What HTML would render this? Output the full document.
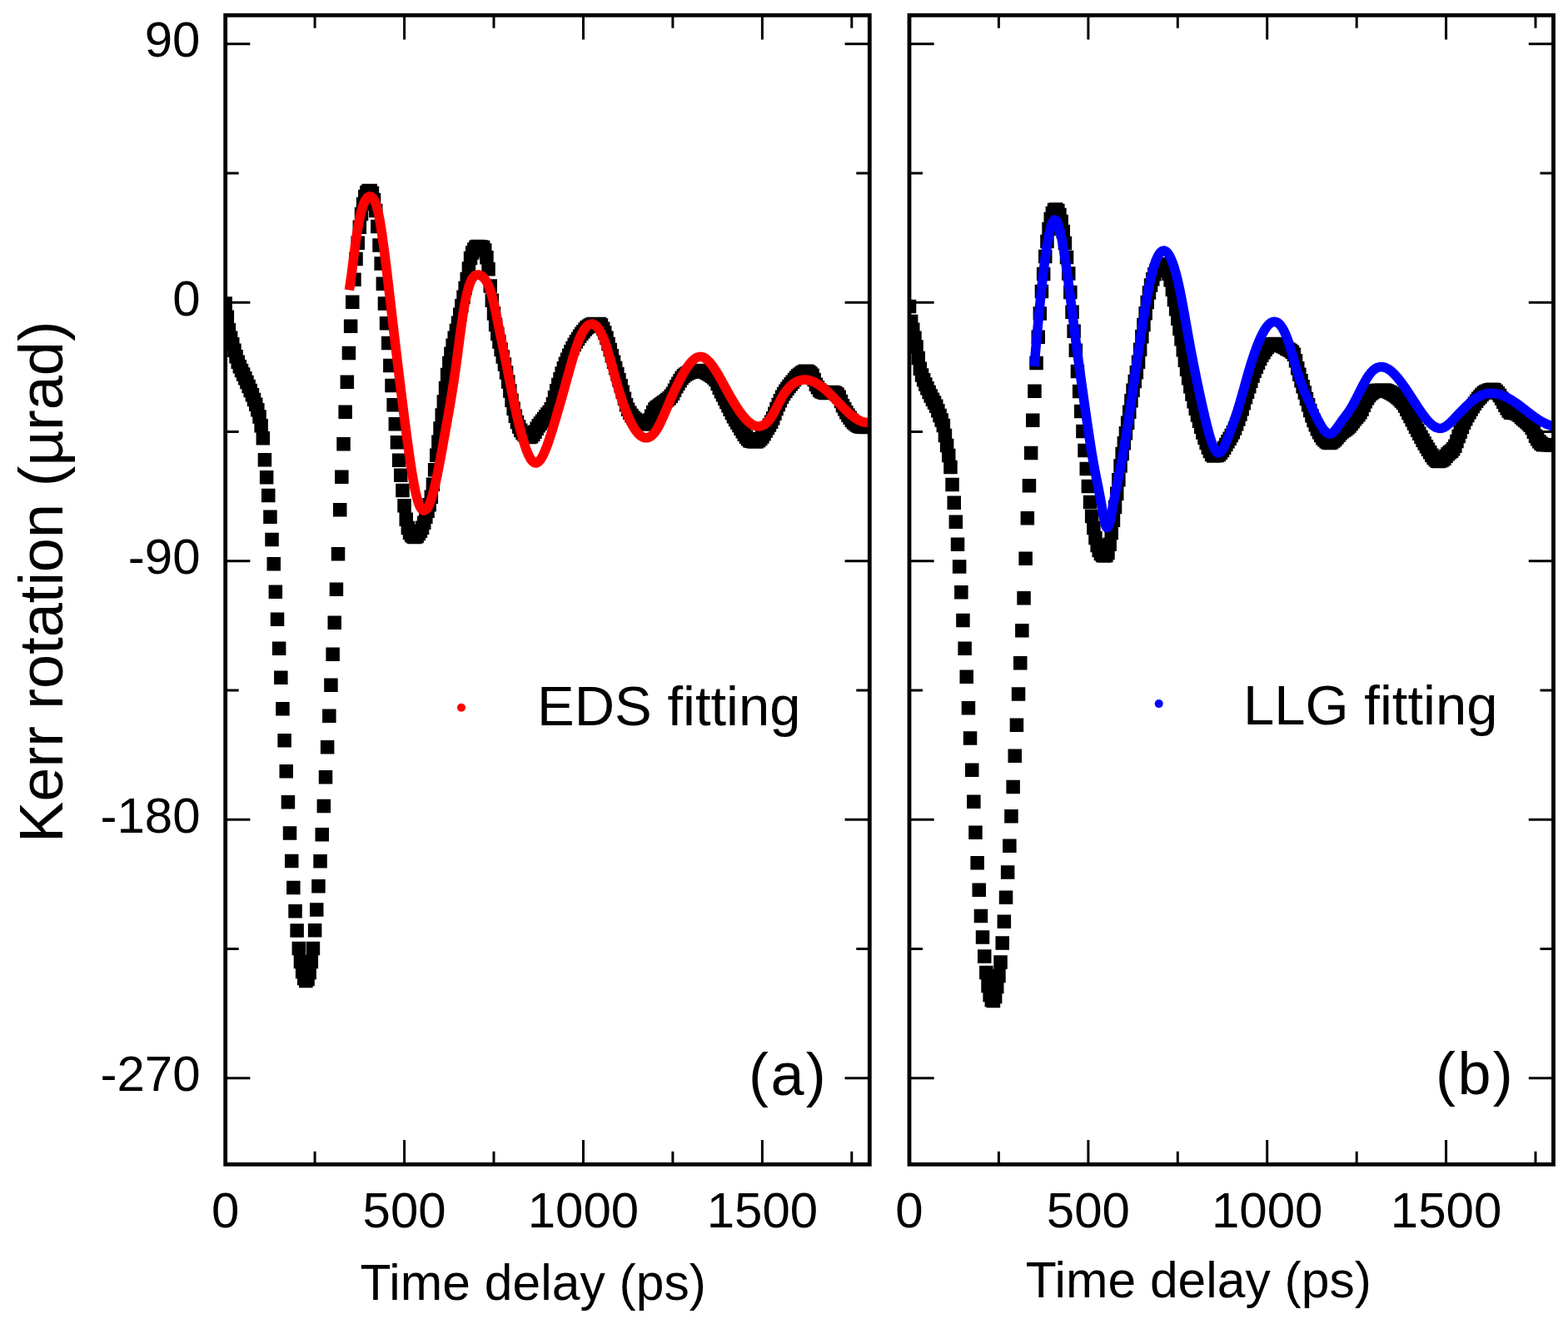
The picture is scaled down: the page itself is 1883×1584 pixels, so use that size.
<!DOCTYPE html><html><head><meta charset="utf-8"><style>html,body{margin:0;padding:0;background:#fff;overflow:hidden}svg{display:block}</style></head><body>
<svg width="1883" height="1584" viewBox="0 0 1883 1584" font-family="'Liberation Sans', Arial, sans-serif">
<rect width="1883" height="1584" fill="#fff"/>
<clipPath id="c270"><rect x="270.7" y="18.3" width="773.6" height="1380.0"/></clipPath>
<g clip-path="url(#c270)">
<path fill="#000" d="M262.4 356.2h16.5v16.5h-16.5zM264.6 372.5h16.5v16.5h-16.5zM266.7 388.0h16.5v16.5h-16.5zM268.9 397.4h16.5v16.5h-16.5zM271.0 405.0h16.5v16.5h-16.5zM273.2 412.6h16.5v16.5h-16.5zM275.3 420.0h16.5v16.5h-16.5zM277.5 426.5h16.5v16.5h-16.5zM279.6 432.0h16.5v16.5h-16.5zM281.8 436.7h16.5v16.5h-16.5zM283.9 441.2h16.5v16.5h-16.5zM286.1 445.9h16.5v16.5h-16.5zM288.2 450.8h16.5v16.5h-16.5zM290.4 455.7h16.5v16.5h-16.5zM292.5 460.8h16.5v16.5h-16.5zM294.7 466.1h16.5v16.5h-16.5zM296.8 471.8h16.5v16.5h-16.5zM299.0 477.6h16.5v16.5h-16.5zM301.1 484.1h16.5v16.5h-16.5zM303.3 492.2h16.5v16.5h-16.5zM305.4 503.0h16.5v16.5h-16.5zM307.6 518.0h16.5v16.5h-16.5zM309.7 543.9h16.5v16.5h-16.5zM311.9 565.0h16.5v16.5h-16.5zM314.0 586.8h16.5v16.5h-16.5zM316.2 612.5h16.5v16.5h-16.5zM318.3 639.8h16.5v16.5h-16.5zM320.5 668.9h16.5v16.5h-16.5zM322.6 702.5h16.5v16.5h-16.5zM324.8 735.4h16.5v16.5h-16.5zM326.9 770.4h16.5v16.5h-16.5zM329.1 805.6h16.5v16.5h-16.5zM331.2 843.1h16.5v16.5h-16.5zM333.4 881.0h16.5v16.5h-16.5zM335.5 918.0h16.5v16.5h-16.5zM337.7 955.1h16.5v16.5h-16.5zM339.8 992.2h16.5v16.5h-16.5zM342.0 1025.8h16.5v16.5h-16.5zM344.1 1057.8h16.5v16.5h-16.5zM346.3 1086.0h16.5v16.5h-16.5zM348.4 1109.2h16.5v16.5h-16.5zM350.6 1130.8h16.5v16.5h-16.5zM352.7 1146.8h16.5v16.5h-16.5zM354.9 1158.8h16.5v16.5h-16.5zM357.0 1166.8h16.5v16.5h-16.5zM359.1 1169.8h16.5v16.5h-16.5zM361.3 1167.8h16.5v16.5h-16.5zM363.4 1159.8h16.5v16.5h-16.5zM365.6 1146.8h16.5v16.5h-16.5zM367.7 1130.8h16.5v16.5h-16.5zM369.9 1109.0h16.5v16.5h-16.5zM372.0 1084.2h16.5v16.5h-16.5zM374.2 1056.0h16.5v16.5h-16.5zM376.3 1026.0h16.5v16.5h-16.5zM378.5 994.0h16.5v16.5h-16.5zM380.6 959.8h16.5v16.5h-16.5zM382.8 925.1h16.5v16.5h-16.5zM384.9 889.0h16.5v16.5h-16.5zM387.1 851.6h16.5v16.5h-16.5zM389.2 814.5h16.5v16.5h-16.5zM391.4 777.4h16.5v16.5h-16.5zM393.5 739.5h16.5v16.5h-16.5zM395.7 699.6h16.5v16.5h-16.5zM397.8 656.9h16.5v16.5h-16.5zM400.0 604.0h16.5v16.5h-16.5zM402.1 564.5h16.5v16.5h-16.5zM404.3 524.9h16.5v16.5h-16.5zM406.4 486.4h16.5v16.5h-16.5zM408.6 450.6h16.5v16.5h-16.5zM410.7 415.8h16.5v16.5h-16.5zM412.9 383.4h16.5v16.5h-16.5zM415.0 354.6h16.5v16.5h-16.5zM417.2 327.4h16.5v16.5h-16.5zM419.3 302.8h16.5v16.5h-16.5zM421.5 283.6h16.5v16.5h-16.5zM423.6 264.4h16.5v16.5h-16.5zM425.8 248.8h16.5v16.5h-16.5zM427.9 236.8h16.5v16.5h-16.5zM430.1 227.8h16.5v16.5h-16.5zM432.2 222.8h16.5v16.5h-16.5zM434.4 220.8h16.5v16.5h-16.5zM436.5 220.8h16.5v16.5h-16.5zM438.7 223.8h16.5v16.5h-16.5zM440.8 231.8h16.5v16.5h-16.5zM443.0 244.8h16.5v16.5h-16.5zM445.1 263.8h16.5v16.5h-16.5zM447.3 286.2h16.5v16.5h-16.5zM449.4 308.2h16.5v16.5h-16.5zM451.6 332.4h16.5v16.5h-16.5zM453.7 356.2h16.5v16.5h-16.5zM455.8 380.1h16.5v16.5h-16.5zM458.0 403.8h16.5v16.5h-16.5zM460.1 430.8h16.5v16.5h-16.5zM462.3 454.8h16.5v16.5h-16.5zM464.4 478.1h16.5v16.5h-16.5zM466.6 501.1h16.5v16.5h-16.5zM468.7 523.1h16.5v16.5h-16.5zM470.9 544.4h16.5v16.5h-16.5zM473.0 562.5h16.5v16.5h-16.5zM475.2 580.8h16.5v16.5h-16.5zM477.3 599.0h16.5v16.5h-16.5zM479.5 615.6h16.5v16.5h-16.5zM481.6 625.8h16.5v16.5h-16.5zM483.8 631.8h16.5v16.5h-16.5zM485.9 634.8h16.5v16.5h-16.5zM488.1 636.2h16.5v16.5h-16.5zM490.2 636.8h16.5v16.5h-16.5zM492.4 635.8h16.5v16.5h-16.5zM494.5 632.8h16.5v16.5h-16.5zM496.7 629.5h16.5v16.5h-16.5zM498.8 625.6h16.5v16.5h-16.5zM501.0 619.5h16.5v16.5h-16.5zM503.1 612.6h16.5v16.5h-16.5zM505.3 605.4h16.5v16.5h-16.5zM507.4 598.1h16.5v16.5h-16.5zM509.6 588.4h16.5v16.5h-16.5zM511.7 573.6h16.5v16.5h-16.5zM513.9 556.0h16.5v16.5h-16.5zM516.0 538.5h16.5v16.5h-16.5zM518.2 522.4h16.5v16.5h-16.5zM520.3 506.2h16.5v16.5h-16.5zM522.5 490.2h16.5v16.5h-16.5zM524.6 474.3h16.5v16.5h-16.5zM526.8 457.8h16.5v16.5h-16.5zM528.9 441.8h16.5v16.5h-16.5zM531.1 427.8h16.5v16.5h-16.5zM533.2 416.5h16.5v16.5h-16.5zM535.4 406.6h16.5v16.5h-16.5zM537.5 397.6h16.5v16.5h-16.5zM539.7 388.8h16.5v16.5h-16.5zM541.8 379.5h16.5v16.5h-16.5zM544.0 369.4h16.5v16.5h-16.5zM546.1 359.0h16.5v16.5h-16.5zM548.3 348.4h16.5v16.5h-16.5zM550.4 337.7h16.5v16.5h-16.5zM552.5 326.8h16.5v16.5h-16.5zM554.7 314.2h16.5v16.5h-16.5zM556.8 301.7h16.5v16.5h-16.5zM559.0 295.2h16.5v16.5h-16.5zM561.1 291.3h16.5v16.5h-16.5zM563.3 288.6h16.5v16.5h-16.5zM565.4 287.8h16.5v16.5h-16.5zM567.6 287.9h16.5v16.5h-16.5zM569.7 288.2h16.5v16.5h-16.5zM571.9 288.7h16.5v16.5h-16.5zM574.0 292.3h16.5v16.5h-16.5zM576.2 301.1h16.5v16.5h-16.5zM578.3 314.9h16.5v16.5h-16.5zM580.5 335.3h16.5v16.5h-16.5zM582.6 352.4h16.5v16.5h-16.5zM584.8 368.2h16.5v16.5h-16.5zM586.9 381.8h16.5v16.5h-16.5zM589.1 392.7h16.5v16.5h-16.5zM591.2 402.3h16.5v16.5h-16.5zM593.4 411.6h16.5v16.5h-16.5zM595.5 420.3h16.5v16.5h-16.5zM597.7 429.2h16.5v16.5h-16.5zM599.8 439.3h16.5v16.5h-16.5zM602.0 450.3h16.5v16.5h-16.5zM604.1 461.2h16.5v16.5h-16.5zM606.3 472.4h16.5v16.5h-16.5zM608.4 482.5h16.5v16.5h-16.5zM610.6 491.4h16.5v16.5h-16.5zM612.7 498.7h16.5v16.5h-16.5zM614.9 504.3h16.5v16.5h-16.5zM617.0 508.6h16.5v16.5h-16.5zM619.2 511.6h16.5v16.5h-16.5zM621.3 513.8h16.5v16.5h-16.5zM623.5 515.1h16.5v16.5h-16.5zM625.6 516.1h16.5v16.5h-16.5zM627.8 516.7h16.5v16.5h-16.5zM629.9 516.1h16.5v16.5h-16.5zM632.1 513.6h16.5v16.5h-16.5zM634.2 510.4h16.5v16.5h-16.5zM636.4 506.4h16.5v16.5h-16.5zM638.5 503.1h16.5v16.5h-16.5zM640.7 500.2h16.5v16.5h-16.5zM642.8 497.4h16.5v16.5h-16.5zM645.0 494.7h16.5v16.5h-16.5zM647.1 491.9h16.5v16.5h-16.5zM649.2 489.3h16.5v16.5h-16.5zM651.4 486.7h16.5v16.5h-16.5zM653.5 483.0h16.5v16.5h-16.5zM655.7 477.0h16.5v16.5h-16.5zM657.8 469.0h16.5v16.5h-16.5zM660.0 460.9h16.5v16.5h-16.5zM662.1 453.8h16.5v16.5h-16.5zM664.3 446.9h16.5v16.5h-16.5zM666.4 440.2h16.5v16.5h-16.5zM668.6 434.1h16.5v16.5h-16.5zM670.7 428.6h16.5v16.5h-16.5zM672.9 423.4h16.5v16.5h-16.5zM675.0 418.5h16.5v16.5h-16.5zM677.2 414.0h16.5v16.5h-16.5zM679.3 409.7h16.5v16.5h-16.5zM681.5 405.8h16.5v16.5h-16.5zM683.6 402.1h16.5v16.5h-16.5zM685.8 398.7h16.5v16.5h-16.5zM687.9 395.5h16.5v16.5h-16.5zM690.1 392.6h16.5v16.5h-16.5zM692.2 389.9h16.5v16.5h-16.5zM694.4 387.3h16.5v16.5h-16.5zM696.5 385.0h16.5v16.5h-16.5zM698.7 383.5h16.5v16.5h-16.5zM700.8 382.3h16.5v16.5h-16.5zM703.0 381.3h16.5v16.5h-16.5zM705.1 380.8h16.5v16.5h-16.5zM707.3 380.8h16.5v16.5h-16.5zM709.4 380.8h16.5v16.5h-16.5zM711.6 380.8h16.5v16.5h-16.5zM713.7 382.3h16.5v16.5h-16.5zM715.9 386.5h16.5v16.5h-16.5zM718.0 391.3h16.5v16.5h-16.5zM720.2 397.5h16.5v16.5h-16.5zM722.3 404.7h16.5v16.5h-16.5zM724.5 411.8h16.5v16.5h-16.5zM726.6 419.1h16.5v16.5h-16.5zM728.8 426.4h16.5v16.5h-16.5zM730.9 433.7h16.5v16.5h-16.5zM733.1 440.8h16.5v16.5h-16.5zM735.2 447.9h16.5v16.5h-16.5zM737.4 455.0h16.5v16.5h-16.5zM739.5 462.4h16.5v16.5h-16.5zM741.7 470.4h16.5v16.5h-16.5zM743.8 478.0h16.5v16.5h-16.5zM745.9 483.6h16.5v16.5h-16.5zM748.1 487.6h16.5v16.5h-16.5zM750.2 490.8h16.5v16.5h-16.5zM752.4 493.4h16.5v16.5h-16.5zM754.5 495.5h16.5v16.5h-16.5zM756.7 497.4h16.5v16.5h-16.5zM758.8 498.9h16.5v16.5h-16.5zM761.0 499.8h16.5v16.5h-16.5zM763.1 500.5h16.5v16.5h-16.5zM765.3 500.9h16.5v16.5h-16.5zM767.4 501.2h16.5v16.5h-16.5zM769.6 500.4h16.5v16.5h-16.5zM771.7 496.2h16.5v16.5h-16.5zM773.9 491.5h16.5v16.5h-16.5zM776.0 486.8h16.5v16.5h-16.5zM778.2 483.2h16.5v16.5h-16.5zM780.3 481.2h16.5v16.5h-16.5zM782.5 479.7h16.5v16.5h-16.5zM784.6 478.1h16.5v16.5h-16.5zM786.8 476.6h16.5v16.5h-16.5zM788.9 475.1h16.5v16.5h-16.5zM791.1 473.5h16.5v16.5h-16.5zM793.2 471.8h16.5v16.5h-16.5zM795.4 469.9h16.5v16.5h-16.5zM797.5 467.6h16.5v16.5h-16.5zM799.7 464.6h16.5v16.5h-16.5zM801.8 460.4h16.5v16.5h-16.5zM804.0 456.1h16.5v16.5h-16.5zM806.1 452.5h16.5v16.5h-16.5zM808.3 449.0h16.5v16.5h-16.5zM810.4 445.8h16.5v16.5h-16.5zM812.6 443.2h16.5v16.5h-16.5zM814.7 441.6h16.5v16.5h-16.5zM816.9 440.3h16.5v16.5h-16.5zM819.0 439.2h16.5v16.5h-16.5zM821.2 438.4h16.5v16.5h-16.5zM823.3 437.8h16.5v16.5h-16.5zM825.5 437.5h16.5v16.5h-16.5zM827.6 437.1h16.5v16.5h-16.5zM829.8 436.9h16.5v16.5h-16.5zM831.9 436.8h16.5v16.5h-16.5zM834.1 436.9h16.5v16.5h-16.5zM836.2 437.5h16.5v16.5h-16.5zM838.4 438.5h16.5v16.5h-16.5zM840.5 439.6h16.5v16.5h-16.5zM842.6 440.7h16.5v16.5h-16.5zM844.8 441.9h16.5v16.5h-16.5zM846.9 443.4h16.5v16.5h-16.5zM849.1 445.2h16.5v16.5h-16.5zM851.2 447.7h16.5v16.5h-16.5zM853.4 452.4h16.5v16.5h-16.5zM855.5 457.5h16.5v16.5h-16.5zM857.7 461.9h16.5v16.5h-16.5zM859.8 466.1h16.5v16.5h-16.5zM862.0 470.4h16.5v16.5h-16.5zM864.1 474.7h16.5v16.5h-16.5zM866.3 479.0h16.5v16.5h-16.5zM868.4 483.4h16.5v16.5h-16.5zM870.6 487.8h16.5v16.5h-16.5zM872.7 491.9h16.5v16.5h-16.5zM874.9 495.7h16.5v16.5h-16.5zM877.0 499.3h16.5v16.5h-16.5zM879.2 502.8h16.5v16.5h-16.5zM881.3 506.4h16.5v16.5h-16.5zM883.5 510.1h16.5v16.5h-16.5zM885.6 513.6h16.5v16.5h-16.5zM887.8 516.4h16.5v16.5h-16.5zM889.9 519.1h16.5v16.5h-16.5zM892.1 521.0h16.5v16.5h-16.5zM894.2 521.6h16.5v16.5h-16.5zM896.4 522.0h16.5v16.5h-16.5zM898.5 522.2h16.5v16.5h-16.5zM900.7 522.1h16.5v16.5h-16.5zM902.8 520.8h16.5v16.5h-16.5zM905.0 518.7h16.5v16.5h-16.5zM907.1 516.3h16.5v16.5h-16.5zM909.3 513.1h16.5v16.5h-16.5zM911.4 509.3h16.5v16.5h-16.5zM913.6 505.8h16.5v16.5h-16.5zM915.7 502.3h16.5v16.5h-16.5zM917.9 498.5h16.5v16.5h-16.5zM920.0 493.9h16.5v16.5h-16.5zM922.2 488.4h16.5v16.5h-16.5zM924.3 482.8h16.5v16.5h-16.5zM926.5 477.8h16.5v16.5h-16.5zM928.6 472.9h16.5v16.5h-16.5zM930.8 468.5h16.5v16.5h-16.5zM932.9 464.8h16.5v16.5h-16.5zM935.1 461.5h16.5v16.5h-16.5zM937.2 458.5h16.5v16.5h-16.5zM939.3 455.7h16.5v16.5h-16.5zM941.5 453.1h16.5v16.5h-16.5zM943.6 450.4h16.5v16.5h-16.5zM945.8 447.7h16.5v16.5h-16.5zM947.9 445.3h16.5v16.5h-16.5zM950.1 443.1h16.5v16.5h-16.5zM952.2 441.4h16.5v16.5h-16.5zM954.4 439.8h16.5v16.5h-16.5zM956.5 438.4h16.5v16.5h-16.5zM958.7 437.6h16.5v16.5h-16.5zM960.8 437.6h16.5v16.5h-16.5zM963.0 438.5h16.5v16.5h-16.5zM965.1 440.2h16.5v16.5h-16.5zM967.3 442.5h16.5v16.5h-16.5zM969.4 447.8h16.5v16.5h-16.5zM971.6 453.4h16.5v16.5h-16.5zM973.7 457.1h16.5v16.5h-16.5zM975.9 460.2h16.5v16.5h-16.5zM978.0 461.9h16.5v16.5h-16.5zM980.2 462.8h16.5v16.5h-16.5zM982.3 463.5h16.5v16.5h-16.5zM984.5 463.7h16.5v16.5h-16.5zM986.6 463.6h16.5v16.5h-16.5zM988.8 463.1h16.5v16.5h-16.5zM990.9 462.8h16.5v16.5h-16.5zM993.1 462.9h16.5v16.5h-16.5zM995.2 463.9h16.5v16.5h-16.5zM997.4 465.4h16.5v16.5h-16.5zM999.5 468.5h16.5v16.5h-16.5zM1001.7 473.8h16.5v16.5h-16.5zM1003.8 478.9h16.5v16.5h-16.5zM1006.0 483.1h16.5v16.5h-16.5zM1008.1 487.1h16.5v16.5h-16.5zM1010.3 490.5h16.5v16.5h-16.5zM1012.4 493.6h16.5v16.5h-16.5zM1014.6 496.5h16.5v16.5h-16.5zM1016.7 499.0h16.5v16.5h-16.5zM1018.9 500.8h16.5v16.5h-16.5zM1021.0 502.3h16.5v16.5h-16.5zM1023.2 503.5h16.5v16.5h-16.5zM1025.3 504.2h16.5v16.5h-16.5zM1027.5 504.4h16.5v16.5h-16.5zM1029.6 504.6h16.5v16.5h-16.5zM1031.8 504.7h16.5v16.5h-16.5zM1033.9 504.7h16.5v16.5h-16.5zM1036.0 504.8h16.5v16.5h-16.5z"/>
<path fill="none" stroke="#f00" stroke-width="11.5" stroke-linejoin="round" d="M419.4 348.4 420.4 342.0 421.4 335.0 422.4 327.5 423.4 319.7 424.4 311.8 425.4 303.9 426.4 296.2 427.4 288.8 428.4 282.0 429.4 275.7 430.4 269.9 431.4 264.7 432.4 260.0 433.4 255.8 434.4 252.0 435.4 248.7 436.4 245.8 437.4 243.3 438.4 241.2 439.4 239.5 440.4 238.2 441.4 237.1 442.4 236.4 443.4 236.0 444.4 235.9 445.4 236.1 446.4 236.6 447.4 237.4 448.4 238.7 449.4 240.4 450.4 242.5 451.4 245.1 452.4 248.3 453.4 252.0 454.4 256.4 455.4 261.3 456.4 266.8 457.4 272.8 458.4 279.3 459.4 286.2 460.4 293.5 461.4 301.0 462.4 308.8 463.4 316.8 464.4 325.0 465.4 333.4 466.4 341.9 467.4 350.5 468.4 359.1 469.4 367.7 470.4 376.4 471.4 384.9 472.4 393.5 473.4 402.0 474.4 410.5 475.4 419.0 476.4 427.4 477.4 435.7 478.4 444.0 479.4 452.3 480.4 460.5 481.4 468.6 482.4 476.6 483.4 484.6 484.4 492.6 485.4 500.4 486.4 508.2 487.4 515.9 488.4 523.5 489.4 531.0 490.4 538.3 491.4 545.5 492.4 552.5 493.4 559.2 494.4 565.6 495.4 571.8 496.4 577.6 497.4 583.0 498.4 588.0 499.4 592.6 500.4 596.7 501.4 600.3 502.4 603.4 503.4 606.1 504.4 608.4 505.4 610.2 506.4 611.5 507.4 612.5 508.4 613.0 509.4 613.1 510.4 612.9 511.4 612.2 512.4 611.2 513.4 609.8 514.4 608.1 515.4 606.0 516.4 603.6 517.4 600.8 518.4 597.8 519.4 594.4 520.4 590.8 521.4 586.8 522.4 582.6 523.4 578.2 524.4 573.6 525.4 568.7 526.4 563.7 527.4 558.6 528.4 553.3 529.4 547.9 530.4 542.4 531.4 536.9 532.4 531.3 533.4 525.7 534.4 520.0 535.4 514.4 536.4 508.9 537.4 503.2 538.4 497.6 539.4 491.9 540.4 486.0 541.4 480.1 542.4 474.0 543.4 467.8 544.4 461.4 545.4 454.8 546.4 447.9 547.4 440.8 548.4 433.4 549.4 425.9 550.4 418.3 551.4 410.7 552.4 403.1 553.4 395.7 554.4 388.5 555.4 381.6 556.4 375.1 557.4 369.0 558.4 363.5 559.4 358.5 560.4 353.9 561.4 349.9 562.4 346.3 563.4 343.1 564.4 340.3 565.4 337.9 566.4 335.9 567.4 334.2 568.4 332.9 569.4 331.8 570.4 331.0 571.4 330.4 572.4 330.1 573.4 330.0 574.4 330.0 575.4 330.2 576.4 330.5 577.4 331.0 578.4 331.5 579.4 332.3 580.4 333.1 581.4 334.2 582.4 335.4 583.4 336.9 584.4 338.5 585.4 340.4 586.4 342.6 587.4 345.0 588.4 347.7 589.4 350.7 590.4 354.0 591.4 357.6 592.4 361.6 593.4 365.9 594.4 370.5 595.4 375.3 596.4 380.2 597.4 385.2 598.4 390.2 599.4 395.1 600.4 400.0 601.4 404.9 602.4 409.8 603.4 414.6 604.4 419.5 605.4 424.4 606.4 429.3 607.4 434.3 608.4 439.3 609.4 444.3 610.4 449.3 611.4 454.4 612.4 459.4 613.4 464.3 614.4 469.3 615.4 474.2 616.4 479.0 617.4 483.8 618.4 488.5 619.4 493.0 620.4 497.5 621.4 501.9 622.4 506.2 623.4 510.3 624.4 514.3 625.4 518.2 626.4 522.0 627.4 525.5 628.4 528.9 629.4 532.2 630.4 535.3 631.4 538.2 632.4 540.9 633.4 543.4 634.4 545.7 635.4 547.8 636.4 549.6 637.4 551.3 638.4 552.7 639.4 553.9 640.4 554.8 641.4 555.5 642.4 555.9 643.4 556.0 644.4 555.8 645.4 555.4 646.4 554.8 647.4 553.9 648.4 552.7 649.4 551.4 650.4 549.8 651.4 548.1 652.4 546.1 653.4 544.0 654.4 541.7 655.4 539.3 656.4 536.7 657.4 534.0 658.4 531.2 659.4 528.3 660.4 525.3 661.4 522.2 662.4 519.0 663.4 515.8 664.4 512.5 665.4 509.2 666.4 505.8 667.4 502.5 668.4 499.1 669.4 495.7 670.4 492.2 671.4 488.8 672.4 485.3 673.4 481.8 674.4 478.2 675.4 474.7 676.4 471.1 677.4 467.6 678.4 464.0 679.4 460.4 680.4 456.8 681.4 453.1 682.4 449.5 683.4 445.9 684.4 442.3 685.4 438.7 686.4 435.3 687.4 431.8 688.4 428.4 689.4 425.2 690.4 422.0 691.4 418.9 692.4 415.9 693.4 413.1 694.4 410.4 695.4 407.9 696.4 405.5 697.4 403.3 698.4 401.3 699.4 399.4 700.4 397.6 701.4 396.0 702.4 394.6 703.4 393.3 704.4 392.2 705.4 391.3 706.4 390.5 707.4 389.9 708.4 389.5 709.4 389.2 710.4 389.1 711.4 389.1 712.4 389.4 713.4 389.8 714.4 390.3 715.4 391.1 716.4 392.0 717.4 393.1 718.4 394.3 719.4 395.8 720.4 397.4 721.4 399.2 722.4 401.1 723.4 403.3 724.4 405.6 725.4 408.1 726.4 410.8 727.4 413.7 728.4 416.7 729.4 419.9 730.4 423.2 731.4 426.7 732.4 430.2 733.4 433.8 734.4 437.4 735.4 441.1 736.4 444.8 737.4 448.4 738.4 452.1 739.4 455.7 740.4 459.3 741.4 462.7 742.4 466.1 743.4 469.5 744.4 472.7 745.4 475.8 746.4 478.9 747.4 481.9 748.4 484.8 749.4 487.6 750.4 490.3 751.4 492.9 752.4 495.4 753.4 497.9 754.4 500.2 755.4 502.5 756.4 504.6 757.4 506.7 758.4 508.6 759.4 510.5 760.4 512.2 761.4 513.9 762.4 515.5 763.4 516.9 764.4 518.2 765.4 519.5 766.4 520.6 767.4 521.6 768.4 522.6 769.4 523.4 770.4 524.0 771.4 524.6 772.4 525.1 773.4 525.4 774.4 525.7 775.4 525.8 776.4 525.8 777.4 525.7 778.4 525.4 779.4 525.1 780.4 524.6 781.4 524.0 782.4 523.3 783.4 522.4 784.4 521.4 785.4 520.3 786.4 519.1 787.4 517.7 788.4 516.2 789.4 514.6 790.4 512.9 791.4 511.0 792.4 509.1 793.4 507.0 794.4 504.9 795.4 502.7 796.4 500.5 797.4 498.2 798.4 495.9 799.4 493.5 800.4 491.2 801.4 488.8 802.4 486.4 803.4 484.0 804.4 481.7 805.4 479.4 806.4 477.1 807.4 474.9 808.4 472.6 809.4 470.4 810.4 468.3 811.4 466.2 812.4 464.1 813.4 462.0 814.4 460.0 815.4 458.0 816.4 456.1 817.4 454.2 818.4 452.3 819.4 450.5 820.4 448.8 821.4 447.1 822.4 445.4 823.4 443.8 824.4 442.3 825.4 440.8 826.4 439.4 827.4 438.1 828.4 436.8 829.4 435.6 830.4 434.5 831.4 433.4 832.4 432.5 833.4 431.6 834.4 430.9 835.4 430.2 836.4 429.6 837.4 429.2 838.4 428.8 839.4 428.6 840.4 428.4 841.4 428.4 842.4 428.5 843.4 428.7 844.4 429.0 845.4 429.5 846.4 430.0 847.4 430.7 848.4 431.4 849.4 432.3 850.4 433.2 851.4 434.2 852.4 435.3 853.4 436.5 854.4 437.8 855.4 439.1 856.4 440.5 857.4 441.9 858.4 443.4 859.4 445.0 860.4 446.6 861.4 448.2 862.4 449.9 863.4 451.6 864.4 453.4 865.4 455.1 866.4 456.9 867.4 458.7 868.4 460.5 869.4 462.4 870.4 464.2 871.4 466.0 872.4 467.8 873.4 469.7 874.4 471.5 875.4 473.2 876.4 475.0 877.4 476.8 878.4 478.5 879.4 480.2 880.4 481.9 881.4 483.6 882.4 485.2 883.4 486.8 884.4 488.4 885.4 489.9 886.4 491.4 887.4 492.9 888.4 494.3 889.4 495.7 890.4 497.1 891.4 498.4 892.4 499.6 893.4 500.8 894.4 502.0 895.4 503.1 896.4 504.2 897.4 505.1 898.4 506.1 899.4 507.0 900.4 507.8 901.4 508.5 902.4 509.2 903.4 509.8 904.4 510.3 905.4 510.8 906.4 511.2 907.4 511.5 908.4 511.8 909.4 511.9 910.4 512.0 911.4 512.0 912.4 511.9 913.4 511.7 914.4 511.5 915.4 511.1 916.4 510.7 917.4 510.1 918.4 509.5 919.4 508.7 920.4 507.9 921.4 506.9 922.4 505.9 923.4 504.7 924.4 503.4 925.4 502.0 926.4 500.5 927.4 498.9 928.4 497.2 929.4 495.4 930.4 493.6 931.4 491.7 932.4 489.7 933.4 487.8 934.4 485.8 935.4 483.8 936.4 481.9 937.4 480.1 938.4 478.3 939.4 476.5 940.4 474.9 941.4 473.3 942.4 471.9 943.4 470.5 944.4 469.1 945.4 467.9 946.4 466.7 947.4 465.6 948.4 464.5 949.4 463.5 950.4 462.6 951.4 461.8 952.4 461.0 953.4 460.3 954.4 459.6 955.4 459.0 956.4 458.5 957.4 458.0 958.4 457.6 959.4 457.2 960.4 456.9 961.4 456.6 962.4 456.4 963.4 456.2 964.4 456.1 965.4 456.0 966.4 456.0 967.4 456.1 968.4 456.1 969.4 456.3 970.4 456.4 971.4 456.6 972.4 456.9 973.4 457.2 974.4 457.5 975.4 457.9 976.4 458.3 977.4 458.8 978.4 459.2 979.4 459.8 980.4 460.3 981.4 460.9 982.4 461.5 983.4 462.2 984.4 462.8 985.4 463.6 986.4 464.3 987.4 465.0 988.4 465.8 989.4 466.6 990.4 467.5 991.4 468.3 992.4 469.2 993.4 470.1 994.4 471.0 995.4 472.0 996.4 472.9 997.4 473.9 998.4 474.9 999.4 475.9 1000.4 476.9 1001.4 477.9 1002.4 478.9 1003.4 480.0 1004.4 481.0 1005.4 482.0 1006.4 483.1 1007.4 484.1 1008.4 485.1 1009.4 486.2 1010.4 487.2 1011.4 488.2 1012.4 489.2 1013.4 490.2 1014.4 491.2 1015.4 492.2 1016.4 493.2 1017.4 494.1 1018.4 495.0 1019.4 495.9 1020.4 496.8 1021.4 497.7 1022.4 498.5 1023.4 499.3 1024.4 500.1 1025.4 500.9 1026.4 501.6 1027.4 502.3 1028.4 502.9 1029.4 503.5 1030.4 504.1 1031.4 504.6 1032.4 505.1 1033.4 505.6 1034.4 506.0 1035.4 506.4 1036.4 506.7 1037.4 507.0 1038.4 507.2 1039.4 507.3 1040.4 507.4 1041.4 507.5 1042.4 507.5 1043.4 507.4 1044.4 507.3 1045.4 507.1"/>
</g>
<path fill="none" stroke="#000" stroke-width="3" d="M270.7 1294.8h29.7M1044.3 1294.8h-29.7M270.7 1139.5h16.0M1044.3 1139.5h-16.0M270.7 984.3h29.7M1044.3 984.3h-29.7M270.7 829.0h16.0M1044.3 829.0h-16.0M270.7 673.8h29.7M1044.3 673.8h-29.7M270.7 518.5h16.0M1044.3 518.5h-16.0M270.7 363.3h29.7M1044.3 363.3h-29.7M270.7 208.1h16.0M1044.3 208.1h-16.0M270.7 52.8h29.7M1044.3 52.8h-29.7M378.1 1398.3v-15.5M378.1 18.3v15.5M485.6 1398.3v-29.3M485.6 18.3v29.3M593.0 1398.3v-15.5M593.0 18.3v15.5M700.5 1398.3v-29.3M700.5 18.3v29.3M807.9 1398.3v-15.5M807.9 18.3v15.5M915.4 1398.3v-29.3M915.4 18.3v29.3M1022.8 1398.3v-15.5M1022.8 18.3v15.5"/>
<rect x="270.7" y="18.3" width="773.6" height="1380.0" fill="none" stroke="#000" stroke-width="4.8"/>
<clipPath id="c1092"><rect x="1092.0" y="18.3" width="773.5" height="1380.0"/></clipPath>
<g clip-path="url(#c1092)">
<path fill="#000" d="M1083.8 359.8h16.5v16.5h-16.5zM1085.9 377.7h16.5v16.5h-16.5zM1088.0 387.5h16.5v16.5h-16.5zM1090.2 397.6h16.5v16.5h-16.5zM1092.3 408.3h16.5v16.5h-16.5zM1094.5 421.8h16.5v16.5h-16.5zM1096.6 434.5h16.5v16.5h-16.5zM1098.8 442.2h16.5v16.5h-16.5zM1100.9 447.9h16.5v16.5h-16.5zM1103.1 453.2h16.5v16.5h-16.5zM1105.2 457.9h16.5v16.5h-16.5zM1107.4 462.7h16.5v16.5h-16.5zM1109.5 467.3h16.5v16.5h-16.5zM1111.7 471.5h16.5v16.5h-16.5zM1113.8 475.3h16.5v16.5h-16.5zM1116.0 479.5h16.5v16.5h-16.5zM1118.1 484.9h16.5v16.5h-16.5zM1120.3 490.8h16.5v16.5h-16.5zM1122.4 496.2h16.5v16.5h-16.5zM1124.6 502.8h16.5v16.5h-16.5zM1126.7 514.8h16.5v16.5h-16.5zM1128.9 526.8h16.5v16.5h-16.5zM1131.0 538.8h16.5v16.5h-16.5zM1133.2 552.8h16.5v16.5h-16.5zM1135.3 573.8h16.5v16.5h-16.5zM1137.5 595.4h16.5v16.5h-16.5zM1139.6 618.5h16.5v16.5h-16.5zM1141.8 645.4h16.5v16.5h-16.5zM1143.9 672.2h16.5v16.5h-16.5zM1146.1 703.0h16.5v16.5h-16.5zM1148.2 736.8h16.5v16.5h-16.5zM1150.4 770.4h16.5v16.5h-16.5zM1152.5 804.6h16.5v16.5h-16.5zM1154.7 841.9h16.5v16.5h-16.5zM1156.8 878.2h16.5v16.5h-16.5zM1159.0 916.5h16.5v16.5h-16.5zM1161.1 954.5h16.5v16.5h-16.5zM1163.2 991.5h16.5v16.5h-16.5zM1165.4 1028.0h16.5v16.5h-16.5zM1167.5 1060.5h16.5v16.5h-16.5zM1169.7 1091.8h16.5v16.5h-16.5zM1171.8 1117.2h16.5v16.5h-16.5zM1174.0 1140.2h16.5v16.5h-16.5zM1176.1 1159.8h16.5v16.5h-16.5zM1178.3 1175.8h16.5v16.5h-16.5zM1180.4 1186.8h16.5v16.5h-16.5zM1182.6 1192.8h16.5v16.5h-16.5zM1184.7 1193.8h16.5v16.5h-16.5zM1186.9 1188.8h16.5v16.5h-16.5zM1189.0 1176.8h16.5v16.5h-16.5zM1191.2 1163.8h16.5v16.5h-16.5zM1193.3 1147.3h16.5v16.5h-16.5zM1195.5 1124.3h16.5v16.5h-16.5zM1197.6 1098.5h16.5v16.5h-16.5zM1199.8 1069.5h16.5v16.5h-16.5zM1201.9 1039.3h16.5v16.5h-16.5zM1204.1 1007.5h16.5v16.5h-16.5zM1206.2 972.1h16.5v16.5h-16.5zM1208.4 936.8h16.5v16.5h-16.5zM1210.5 899.5h16.5v16.5h-16.5zM1212.7 862.4h16.5v16.5h-16.5zM1214.8 825.2h16.5v16.5h-16.5zM1217.0 788.0h16.5v16.5h-16.5zM1219.1 749.0h16.5v16.5h-16.5zM1221.3 710.1h16.5v16.5h-16.5zM1223.4 662.4h16.5v16.5h-16.5zM1225.6 614.1h16.5v16.5h-16.5zM1227.7 575.0h16.5v16.5h-16.5zM1229.9 535.8h16.5v16.5h-16.5zM1232.0 496.4h16.5v16.5h-16.5zM1234.2 461.6h16.5v16.5h-16.5zM1236.3 427.8h16.5v16.5h-16.5zM1238.5 396.4h16.5v16.5h-16.5zM1240.6 368.2h16.5v16.5h-16.5zM1242.7 341.8h16.5v16.5h-16.5zM1244.9 320.8h16.5v16.5h-16.5zM1247.0 299.8h16.5v16.5h-16.5zM1249.2 281.8h16.5v16.5h-16.5zM1251.3 266.8h16.5v16.5h-16.5zM1253.5 254.8h16.5v16.5h-16.5zM1255.6 247.8h16.5v16.5h-16.5zM1257.8 243.8h16.5v16.5h-16.5zM1259.9 243.2h16.5v16.5h-16.5zM1262.1 244.8h16.5v16.5h-16.5zM1264.2 249.8h16.5v16.5h-16.5zM1266.4 257.8h16.5v16.5h-16.5zM1268.5 269.8h16.5v16.5h-16.5zM1270.7 283.8h16.5v16.5h-16.5zM1272.8 300.8h16.5v16.5h-16.5zM1275.0 320.2h16.5v16.5h-16.5zM1277.1 342.8h16.5v16.5h-16.5zM1279.3 366.6h16.5v16.5h-16.5zM1281.4 389.6h16.5v16.5h-16.5zM1283.6 412.4h16.5v16.5h-16.5zM1285.7 437.8h16.5v16.5h-16.5zM1287.9 461.8h16.5v16.5h-16.5zM1290.0 485.8h16.5v16.5h-16.5zM1292.2 509.8h16.5v16.5h-16.5zM1294.3 532.8h16.5v16.5h-16.5zM1296.5 554.8h16.5v16.5h-16.5zM1298.6 575.8h16.5v16.5h-16.5zM1300.8 594.8h16.5v16.5h-16.5zM1302.9 611.8h16.5v16.5h-16.5zM1305.1 625.8h16.5v16.5h-16.5zM1307.2 637.8h16.5v16.5h-16.5zM1309.4 646.8h16.5v16.5h-16.5zM1311.5 652.8h16.5v16.5h-16.5zM1313.7 656.8h16.5v16.5h-16.5zM1315.8 658.8h16.5v16.5h-16.5zM1317.9 659.2h16.5v16.5h-16.5zM1320.1 658.8h16.5v16.5h-16.5zM1322.2 655.8h16.5v16.5h-16.5zM1324.4 645.5h16.5v16.5h-16.5zM1326.5 631.7h16.5v16.5h-16.5zM1328.7 616.5h16.5v16.5h-16.5zM1330.8 600.7h16.5v16.5h-16.5zM1333.0 584.5h16.5v16.5h-16.5zM1335.1 567.9h16.5v16.5h-16.5zM1337.3 551.2h16.5v16.5h-16.5zM1339.4 536.8h16.5v16.5h-16.5zM1341.6 524.0h16.5v16.5h-16.5zM1343.7 511.9h16.5v16.5h-16.5zM1345.9 499.5h16.5v16.5h-16.5zM1348.0 486.4h16.5v16.5h-16.5zM1350.2 473.0h16.5v16.5h-16.5zM1352.3 460.6h16.5v16.5h-16.5zM1354.5 449.8h16.5v16.5h-16.5zM1356.6 439.0h16.5v16.5h-16.5zM1358.8 426.4h16.5v16.5h-16.5zM1360.9 411.5h16.5v16.5h-16.5zM1363.1 396.0h16.5v16.5h-16.5zM1365.2 381.8h16.5v16.5h-16.5zM1367.4 368.0h16.5v16.5h-16.5zM1369.5 354.8h16.5v16.5h-16.5zM1371.7 343.2h16.5v16.5h-16.5zM1373.8 334.3h16.5v16.5h-16.5zM1376.0 326.9h16.5v16.5h-16.5zM1378.1 321.0h16.5v16.5h-16.5zM1380.3 316.9h16.5v16.5h-16.5zM1382.4 313.7h16.5v16.5h-16.5zM1384.6 310.9h16.5v16.5h-16.5zM1386.7 309.2h16.5v16.5h-16.5zM1388.9 308.9h16.5v16.5h-16.5zM1391.0 311.0h16.5v16.5h-16.5zM1393.2 315.2h16.5v16.5h-16.5zM1395.3 320.6h16.5v16.5h-16.5zM1397.4 328.1h16.5v16.5h-16.5zM1399.6 339.6h16.5v16.5h-16.5zM1401.7 351.7h16.5v16.5h-16.5zM1403.9 363.0h16.5v16.5h-16.5zM1406.0 374.5h16.5v16.5h-16.5zM1408.2 386.4h16.5v16.5h-16.5zM1410.3 399.1h16.5v16.5h-16.5zM1412.5 412.0h16.5v16.5h-16.5zM1414.6 424.5h16.5v16.5h-16.5zM1416.8 435.6h16.5v16.5h-16.5zM1418.9 446.0h16.5v16.5h-16.5zM1421.1 455.9h16.5v16.5h-16.5zM1423.2 465.3h16.5v16.5h-16.5zM1425.4 474.1h16.5v16.5h-16.5zM1427.5 482.4h16.5v16.5h-16.5zM1429.7 490.2h16.5v16.5h-16.5zM1431.8 497.6h16.5v16.5h-16.5zM1434.0 504.6h16.5v16.5h-16.5zM1436.1 511.2h16.5v16.5h-16.5zM1438.3 517.6h16.5v16.5h-16.5zM1440.4 523.8h16.5v16.5h-16.5zM1442.6 529.3h16.5v16.5h-16.5zM1444.7 533.7h16.5v16.5h-16.5zM1446.9 537.7h16.5v16.5h-16.5zM1449.0 539.2h16.5v16.5h-16.5zM1451.2 539.1h16.5v16.5h-16.5zM1453.3 538.8h16.5v16.5h-16.5zM1455.5 537.8h16.5v16.5h-16.5zM1457.6 535.5h16.5v16.5h-16.5zM1459.8 532.7h16.5v16.5h-16.5zM1461.9 529.5h16.5v16.5h-16.5zM1464.1 525.8h16.5v16.5h-16.5zM1466.2 522.0h16.5v16.5h-16.5zM1468.4 518.4h16.5v16.5h-16.5zM1470.5 514.8h16.5v16.5h-16.5zM1472.6 510.9h16.5v16.5h-16.5zM1474.8 506.3h16.5v16.5h-16.5zM1476.9 501.0h16.5v16.5h-16.5zM1479.1 495.2h16.5v16.5h-16.5zM1481.2 489.2h16.5v16.5h-16.5zM1483.4 482.9h16.5v16.5h-16.5zM1485.5 476.1h16.5v16.5h-16.5zM1487.7 469.1h16.5v16.5h-16.5zM1489.8 462.4h16.5v16.5h-16.5zM1492.0 455.9h16.5v16.5h-16.5zM1494.1 449.4h16.5v16.5h-16.5zM1496.3 443.2h16.5v16.5h-16.5zM1498.4 437.6h16.5v16.5h-16.5zM1500.6 432.4h16.5v16.5h-16.5zM1502.7 427.4h16.5v16.5h-16.5zM1504.9 422.7h16.5v16.5h-16.5zM1507.0 418.5h16.5v16.5h-16.5zM1509.2 414.9h16.5v16.5h-16.5zM1511.3 411.6h16.5v16.5h-16.5zM1513.5 408.7h16.5v16.5h-16.5zM1515.6 406.8h16.5v16.5h-16.5zM1517.8 405.8h16.5v16.5h-16.5zM1519.9 405.1h16.5v16.5h-16.5zM1522.1 404.8h16.5v16.5h-16.5zM1524.2 405.0h16.5v16.5h-16.5zM1526.4 405.5h16.5v16.5h-16.5zM1528.5 406.3h16.5v16.5h-16.5zM1530.7 407.1h16.5v16.5h-16.5zM1532.8 408.0h16.5v16.5h-16.5zM1535.0 409.1h16.5v16.5h-16.5zM1537.1 410.4h16.5v16.5h-16.5zM1539.3 411.6h16.5v16.5h-16.5zM1541.4 412.8h16.5v16.5h-16.5zM1543.6 414.5h16.5v16.5h-16.5zM1545.7 417.5h16.5v16.5h-16.5zM1547.8 424.9h16.5v16.5h-16.5zM1550.0 434.0h16.5v16.5h-16.5zM1552.1 441.6h16.5v16.5h-16.5zM1554.3 448.9h16.5v16.5h-16.5zM1556.4 456.1h16.5v16.5h-16.5zM1558.6 463.3h16.5v16.5h-16.5zM1560.7 470.7h16.5v16.5h-16.5zM1562.9 478.1h16.5v16.5h-16.5zM1565.0 484.8h16.5v16.5h-16.5zM1567.2 490.9h16.5v16.5h-16.5zM1569.3 496.7h16.5v16.5h-16.5zM1571.5 502.1h16.5v16.5h-16.5zM1573.6 506.9h16.5v16.5h-16.5zM1575.8 511.0h16.5v16.5h-16.5zM1577.9 514.8h16.5v16.5h-16.5zM1580.1 518.0h16.5v16.5h-16.5zM1582.2 520.1h16.5v16.5h-16.5zM1584.4 521.9h16.5v16.5h-16.5zM1586.5 523.2h16.5v16.5h-16.5zM1588.7 523.7h16.5v16.5h-16.5zM1590.8 523.0h16.5v16.5h-16.5zM1593.0 521.3h16.5v16.5h-16.5zM1595.1 519.4h16.5v16.5h-16.5zM1597.3 517.1h16.5v16.5h-16.5zM1599.4 514.4h16.5v16.5h-16.5zM1601.6 511.9h16.5v16.5h-16.5zM1603.7 510.0h16.5v16.5h-16.5zM1605.9 508.4h16.5v16.5h-16.5zM1608.0 506.9h16.5v16.5h-16.5zM1610.2 505.2h16.5v16.5h-16.5zM1612.3 503.2h16.5v16.5h-16.5zM1614.5 500.7h16.5v16.5h-16.5zM1616.6 497.9h16.5v16.5h-16.5zM1618.8 495.1h16.5v16.5h-16.5zM1620.9 492.5h16.5v16.5h-16.5zM1623.1 489.9h16.5v16.5h-16.5zM1625.2 487.0h16.5v16.5h-16.5zM1627.3 483.5h16.5v16.5h-16.5zM1629.5 478.6h16.5v16.5h-16.5zM1631.6 473.9h16.5v16.5h-16.5zM1633.8 470.1h16.5v16.5h-16.5zM1635.9 466.7h16.5v16.5h-16.5zM1638.1 464.3h16.5v16.5h-16.5zM1640.2 462.7h16.5v16.5h-16.5zM1642.4 461.5h16.5v16.5h-16.5zM1644.5 460.8h16.5v16.5h-16.5zM1646.7 460.5h16.5v16.5h-16.5zM1648.8 460.4h16.5v16.5h-16.5zM1651.0 460.3h16.5v16.5h-16.5zM1653.1 460.3h16.5v16.5h-16.5zM1655.3 460.6h16.5v16.5h-16.5zM1657.4 461.3h16.5v16.5h-16.5zM1659.6 462.2h16.5v16.5h-16.5zM1661.7 463.2h16.5v16.5h-16.5zM1663.9 464.4h16.5v16.5h-16.5zM1666.0 465.7h16.5v16.5h-16.5zM1668.2 467.3h16.5v16.5h-16.5zM1670.3 469.0h16.5v16.5h-16.5zM1672.5 470.9h16.5v16.5h-16.5zM1674.6 473.2h16.5v16.5h-16.5zM1676.8 475.8h16.5v16.5h-16.5zM1678.9 479.2h16.5v16.5h-16.5zM1681.1 483.4h16.5v16.5h-16.5zM1683.2 487.7h16.5v16.5h-16.5zM1685.4 491.8h16.5v16.5h-16.5zM1687.5 496.0h16.5v16.5h-16.5zM1689.7 500.3h16.5v16.5h-16.5zM1691.8 504.4h16.5v16.5h-16.5zM1694.0 508.5h16.5v16.5h-16.5zM1696.1 512.6h16.5v16.5h-16.5zM1698.3 516.6h16.5v16.5h-16.5zM1700.4 520.5h16.5v16.5h-16.5zM1702.5 524.3h16.5v16.5h-16.5zM1704.7 527.9h16.5v16.5h-16.5zM1706.8 531.5h16.5v16.5h-16.5zM1709.0 535.0h16.5v16.5h-16.5zM1711.1 538.6h16.5v16.5h-16.5zM1713.3 541.4h16.5v16.5h-16.5zM1715.4 543.8h16.5v16.5h-16.5zM1717.6 545.5h16.5v16.5h-16.5zM1719.7 545.7h16.5v16.5h-16.5zM1721.9 545.1h16.5v16.5h-16.5zM1724.0 544.1h16.5v16.5h-16.5zM1726.2 542.5h16.5v16.5h-16.5zM1728.3 539.6h16.5v16.5h-16.5zM1730.5 537.0h16.5v16.5h-16.5zM1732.6 535.1h16.5v16.5h-16.5zM1734.8 533.4h16.5v16.5h-16.5zM1736.9 531.1h16.5v16.5h-16.5zM1739.1 527.4h16.5v16.5h-16.5zM1741.2 521.8h16.5v16.5h-16.5zM1743.4 515.8h16.5v16.5h-16.5zM1745.5 510.3h16.5v16.5h-16.5zM1747.7 504.7h16.5v16.5h-16.5zM1749.8 499.5h16.5v16.5h-16.5zM1752.0 494.9h16.5v16.5h-16.5zM1754.1 490.7h16.5v16.5h-16.5zM1756.3 486.9h16.5v16.5h-16.5zM1758.4 483.2h16.5v16.5h-16.5zM1760.6 479.8h16.5v16.5h-16.5zM1762.7 476.5h16.5v16.5h-16.5zM1764.9 473.4h16.5v16.5h-16.5zM1767.0 470.6h16.5v16.5h-16.5zM1769.2 468.2h16.5v16.5h-16.5zM1771.3 465.8h16.5v16.5h-16.5zM1773.5 463.8h16.5v16.5h-16.5zM1775.6 462.3h16.5v16.5h-16.5zM1777.8 461.4h16.5v16.5h-16.5zM1779.9 460.5h16.5v16.5h-16.5zM1782.0 459.9h16.5v16.5h-16.5zM1784.2 459.6h16.5v16.5h-16.5zM1786.3 460.0h16.5v16.5h-16.5zM1788.5 461.7h16.5v16.5h-16.5zM1790.6 464.1h16.5v16.5h-16.5zM1792.8 466.8h16.5v16.5h-16.5zM1794.9 470.2h16.5v16.5h-16.5zM1797.1 474.4h16.5v16.5h-16.5zM1799.2 478.4h16.5v16.5h-16.5zM1801.4 481.9h16.5v16.5h-16.5zM1803.5 485.3h16.5v16.5h-16.5zM1805.7 487.2h16.5v16.5h-16.5zM1807.8 487.6h16.5v16.5h-16.5zM1810.0 487.8h16.5v16.5h-16.5zM1812.1 488.1h16.5v16.5h-16.5zM1814.3 488.9h16.5v16.5h-16.5zM1816.4 490.6h16.5v16.5h-16.5zM1818.6 492.7h16.5v16.5h-16.5zM1820.7 494.7h16.5v16.5h-16.5zM1822.9 496.5h16.5v16.5h-16.5zM1825.0 498.2h16.5v16.5h-16.5zM1827.2 500.2h16.5v16.5h-16.5zM1829.3 502.5h16.5v16.5h-16.5zM1831.5 505.7h16.5v16.5h-16.5zM1833.6 510.5h16.5v16.5h-16.5zM1835.8 515.4h16.5v16.5h-16.5zM1837.9 519.1h16.5v16.5h-16.5zM1840.1 521.9h16.5v16.5h-16.5zM1842.2 524.3h16.5v16.5h-16.5zM1844.4 525.7h16.5v16.5h-16.5zM1846.5 525.9h16.5v16.5h-16.5zM1848.7 526.1h16.5v16.5h-16.5zM1850.8 526.3h16.5v16.5h-16.5zM1853.0 526.3h16.5v16.5h-16.5zM1855.1 526.4h16.5v16.5h-16.5zM1857.2 526.4h16.5v16.5h-16.5z"/>
<path fill="none" stroke="#00f" stroke-width="11.5" stroke-linejoin="round" d="M1242.0 440.0 1243.0 428.4 1244.0 417.1 1245.0 405.9 1246.0 394.9 1247.0 384.3 1248.0 373.9 1249.0 363.8 1250.0 354.0 1251.0 344.6 1252.0 335.6 1253.0 327.0 1254.0 318.8 1255.0 311.1 1256.0 303.9 1257.0 297.2 1258.0 291.0 1259.0 285.4 1260.0 280.4 1261.0 276.0 1262.0 272.2 1263.0 269.1 1264.0 266.7 1265.0 265.0 1266.0 264.1 1267.0 263.9 1268.0 264.5 1269.0 265.8 1270.0 267.8 1271.0 270.4 1272.0 273.6 1273.0 277.4 1274.0 281.7 1275.0 286.5 1276.0 291.8 1277.0 297.5 1278.0 303.6 1279.0 310.1 1280.0 316.8 1281.0 323.9 1282.0 331.2 1283.0 338.7 1284.0 346.4 1285.0 354.2 1286.0 362.1 1287.0 370.1 1288.0 378.1 1289.0 386.1 1290.0 394.0 1291.0 401.9 1292.0 409.7 1293.0 417.3 1294.0 424.9 1295.0 432.4 1296.0 439.7 1297.0 447.0 1298.0 454.3 1299.0 461.5 1300.0 468.6 1301.0 475.6 1302.0 482.7 1303.0 489.7 1304.0 496.6 1305.0 503.6 1306.0 510.5 1307.0 517.3 1308.0 524.1 1309.0 530.7 1310.0 537.2 1311.0 543.5 1312.0 549.5 1313.0 555.2 1314.0 560.7 1315.0 566.0 1316.0 571.1 1317.0 576.2 1318.0 581.2 1319.0 586.2 1320.0 591.3 1321.0 596.5 1322.0 601.9 1323.0 607.5 1324.0 613.3 1325.0 619.1 1326.0 624.3 1327.0 628.8 1328.0 632.0 1329.0 633.6 1330.0 633.6 1331.0 632.2 1332.0 629.6 1333.0 625.9 1334.0 621.5 1335.0 616.5 1336.0 611.1 1337.0 605.4 1338.0 599.8 1339.0 594.4 1340.0 589.1 1341.0 584.0 1342.0 579.0 1343.0 574.0 1344.0 569.0 1345.0 564.0 1346.0 558.9 1347.0 553.7 1348.0 548.4 1349.0 542.8 1350.0 537.0 1351.0 531.0 1352.0 524.8 1353.0 518.5 1354.0 512.0 1355.0 505.3 1356.0 498.6 1357.0 491.8 1358.0 484.9 1359.0 478.0 1360.0 471.1 1361.0 464.1 1362.0 457.2 1363.0 450.3 1364.0 443.5 1365.0 436.8 1366.0 430.1 1367.0 423.4 1368.0 416.8 1369.0 410.2 1370.0 403.7 1371.0 397.1 1372.0 390.6 1373.0 384.1 1374.0 377.7 1375.0 371.5 1376.0 365.4 1377.0 359.5 1378.0 353.9 1379.0 348.5 1380.0 343.4 1381.0 338.6 1382.0 334.2 1383.0 330.0 1384.0 326.1 1385.0 322.5 1386.0 319.1 1387.0 316.1 1388.0 313.3 1389.0 310.9 1390.0 308.7 1391.0 306.8 1392.0 305.1 1393.0 303.8 1394.0 302.7 1395.0 301.9 1396.0 301.3 1397.0 301.1 1398.0 301.0 1399.0 301.3 1400.0 301.8 1401.0 302.6 1402.0 303.6 1403.0 304.9 1404.0 306.5 1405.0 308.3 1406.0 310.4 1407.0 312.7 1408.0 315.2 1409.0 318.0 1410.0 321.1 1411.0 324.4 1412.0 327.9 1413.0 331.7 1414.0 335.7 1415.0 340.0 1416.0 344.5 1417.0 349.2 1418.0 354.1 1419.0 359.3 1420.0 364.6 1421.0 370.0 1422.0 375.6 1423.0 381.2 1424.0 386.9 1425.0 392.6 1426.0 398.3 1427.0 403.9 1428.0 409.4 1429.0 414.8 1430.0 420.2 1431.0 425.5 1432.0 430.7 1433.0 435.9 1434.0 441.0 1435.0 446.0 1436.0 450.9 1437.0 455.8 1438.0 460.6 1439.0 465.4 1440.0 470.1 1441.0 474.7 1442.0 479.3 1443.0 483.8 1444.0 488.2 1445.0 492.6 1446.0 496.9 1447.0 501.2 1448.0 505.4 1449.0 509.5 1450.0 513.5 1451.0 517.3 1452.0 521.0 1453.0 524.5 1454.0 527.8 1455.0 530.8 1456.0 533.6 1457.0 536.1 1458.0 538.3 1459.0 540.1 1460.0 541.7 1461.0 542.8 1462.0 543.6 1463.0 544.0 1464.0 543.9 1465.0 543.5 1466.0 542.7 1467.0 541.5 1468.0 540.1 1469.0 538.4 1470.0 536.4 1471.0 534.3 1472.0 532.0 1473.0 529.6 1474.0 527.1 1475.0 524.6 1476.0 522.0 1477.0 519.4 1478.0 516.7 1479.0 514.0 1480.0 511.2 1481.0 508.4 1482.0 505.5 1483.0 502.6 1484.0 499.6 1485.0 496.5 1486.0 493.4 1487.0 490.2 1488.0 486.9 1489.0 483.6 1490.0 480.2 1491.0 476.7 1492.0 473.2 1493.0 469.6 1494.0 466.0 1495.0 462.3 1496.0 458.7 1497.0 455.1 1498.0 451.6 1499.0 448.1 1500.0 444.7 1501.0 441.3 1502.0 438.0 1503.0 434.8 1504.0 431.7 1505.0 428.6 1506.0 425.6 1507.0 422.8 1508.0 420.0 1509.0 417.2 1510.0 414.6 1511.0 412.1 1512.0 409.7 1513.0 407.4 1514.0 405.1 1515.0 403.0 1516.0 401.0 1517.0 399.2 1518.0 397.4 1519.0 395.7 1520.0 394.2 1521.0 392.8 1522.0 391.5 1523.0 390.4 1524.0 389.4 1525.0 388.5 1526.0 387.8 1527.0 387.2 1528.0 386.8 1529.0 386.5 1530.0 386.3 1531.0 386.4 1532.0 386.5 1533.0 386.9 1534.0 387.3 1535.0 388.0 1536.0 388.8 1537.0 389.8 1538.0 391.0 1539.0 392.4 1540.0 393.9 1541.0 395.6 1542.0 397.5 1543.0 399.6 1544.0 401.9 1545.0 404.4 1546.0 407.1 1547.0 409.9 1548.0 412.9 1549.0 416.1 1550.0 419.3 1551.0 422.6 1552.0 426.0 1553.0 429.5 1554.0 433.0 1555.0 436.4 1556.0 439.9 1557.0 443.3 1558.0 446.6 1559.0 449.9 1560.0 453.0 1561.0 456.0 1562.0 458.9 1563.0 461.6 1564.0 464.2 1565.0 466.7 1566.0 469.1 1567.0 471.4 1568.0 473.7 1569.0 475.9 1570.0 478.1 1571.0 480.3 1572.0 482.4 1573.0 484.6 1574.0 486.7 1575.0 488.8 1576.0 490.9 1577.0 493.0 1578.0 495.0 1579.0 497.1 1580.0 499.1 1581.0 501.0 1582.0 503.0 1583.0 504.9 1584.0 506.8 1585.0 508.6 1586.0 510.4 1587.0 512.0 1588.0 513.6 1589.0 515.1 1590.0 516.4 1591.0 517.6 1592.0 518.6 1593.0 519.5 1594.0 520.2 1595.0 520.7 1596.0 521.0 1597.0 521.0 1598.0 520.9 1599.0 520.5 1600.0 519.9 1601.0 519.2 1602.0 518.2 1603.0 517.1 1604.0 515.9 1605.0 514.6 1606.0 513.3 1607.0 511.9 1608.0 510.4 1609.0 508.9 1610.0 507.5 1611.0 506.1 1612.0 504.7 1613.0 503.3 1614.0 502.0 1615.0 500.7 1616.0 499.4 1617.0 498.1 1618.0 496.8 1619.0 495.4 1620.0 493.9 1621.0 492.4 1622.0 490.8 1623.0 489.1 1624.0 487.4 1625.0 485.6 1626.0 483.8 1627.0 481.9 1628.0 480.0 1629.0 478.0 1630.0 476.0 1631.0 474.1 1632.0 472.1 1633.0 470.1 1634.0 468.1 1635.0 466.1 1636.0 464.2 1637.0 462.3 1638.0 460.4 1639.0 458.6 1640.0 456.9 1641.0 455.2 1642.0 453.5 1643.0 452.0 1644.0 450.5 1645.0 449.2 1646.0 447.9 1647.0 446.7 1648.0 445.7 1649.0 444.7 1650.0 443.9 1651.0 443.2 1652.0 442.5 1653.0 442.0 1654.0 441.5 1655.0 441.2 1656.0 440.9 1657.0 440.7 1658.0 440.6 1659.0 440.6 1660.0 440.7 1661.0 440.8 1662.0 441.0 1663.0 441.3 1664.0 441.7 1665.0 442.1 1666.0 442.6 1667.0 443.2 1668.0 443.8 1669.0 444.5 1670.0 445.3 1671.0 446.1 1672.0 447.0 1673.0 447.9 1674.0 448.9 1675.0 449.9 1676.0 451.0 1677.0 452.1 1678.0 453.3 1679.0 454.5 1680.0 455.7 1681.0 457.0 1682.0 458.3 1683.0 459.6 1684.0 461.0 1685.0 462.4 1686.0 463.8 1687.0 465.2 1688.0 466.7 1689.0 468.1 1690.0 469.6 1691.0 471.2 1692.0 472.7 1693.0 474.2 1694.0 475.7 1695.0 477.3 1696.0 478.8 1697.0 480.4 1698.0 481.9 1699.0 483.5 1700.0 485.0 1701.0 486.5 1702.0 488.1 1703.0 489.6 1704.0 491.1 1705.0 492.5 1706.0 494.0 1707.0 495.4 1708.0 496.8 1709.0 498.2 1710.0 499.6 1711.0 500.9 1712.0 502.1 1713.0 503.4 1714.0 504.5 1715.0 505.7 1716.0 506.7 1717.0 507.7 1718.0 508.7 1719.0 509.6 1720.0 510.4 1721.0 511.2 1722.0 511.9 1723.0 512.5 1724.0 513.0 1725.0 513.5 1726.0 513.8 1727.0 514.1 1728.0 514.3 1729.0 514.4 1730.0 514.4 1731.0 514.3 1732.0 514.0 1733.0 513.7 1734.0 513.3 1735.0 512.8 1736.0 512.2 1737.0 511.5 1738.0 510.7 1739.0 509.9 1740.0 509.1 1741.0 508.2 1742.0 507.2 1743.0 506.2 1744.0 505.2 1745.0 504.2 1746.0 503.2 1747.0 502.1 1748.0 501.1 1749.0 500.0 1750.0 499.0 1751.0 497.9 1752.0 496.9 1753.0 495.8 1754.0 494.8 1755.0 493.8 1756.0 492.7 1757.0 491.7 1758.0 490.7 1759.0 489.7 1760.0 488.7 1761.0 487.8 1762.0 486.8 1763.0 485.9 1764.0 485.0 1765.0 484.1 1766.0 483.2 1767.0 482.3 1768.0 481.5 1769.0 480.7 1770.0 480.0 1771.0 479.2 1772.0 478.5 1773.0 477.9 1774.0 477.2 1775.0 476.6 1776.0 476.1 1777.0 475.6 1778.0 475.1 1779.0 474.7 1780.0 474.3 1781.0 473.9 1782.0 473.6 1783.0 473.3 1784.0 473.0 1785.0 472.8 1786.0 472.7 1787.0 472.5 1788.0 472.4 1789.0 472.3 1790.0 472.3 1791.0 472.3 1792.0 472.3 1793.0 472.3 1794.0 472.4 1795.0 472.5 1796.0 472.7 1797.0 472.8 1798.0 473.0 1799.0 473.3 1800.0 473.5 1801.0 473.8 1802.0 474.1 1803.0 474.4 1804.0 474.8 1805.0 475.2 1806.0 475.6 1807.0 476.0 1808.0 476.5 1809.0 477.0 1810.0 477.5 1811.0 478.0 1812.0 478.6 1813.0 479.1 1814.0 479.7 1815.0 480.3 1816.0 481.0 1817.0 481.6 1818.0 482.3 1819.0 482.9 1820.0 483.6 1821.0 484.3 1822.0 485.0 1823.0 485.8 1824.0 486.5 1825.0 487.2 1826.0 488.0 1827.0 488.7 1828.0 489.5 1829.0 490.3 1830.0 491.1 1831.0 491.8 1832.0 492.6 1833.0 493.4 1834.0 494.1 1835.0 494.9 1836.0 495.7 1837.0 496.5 1838.0 497.2 1839.0 498.0 1840.0 498.7 1841.0 499.4 1842.0 500.2 1843.0 500.9 1844.0 501.6 1845.0 502.3 1846.0 503.0 1847.0 503.6 1848.0 504.3 1849.0 504.9 1850.0 505.5 1851.0 506.1 1852.0 506.7 1853.0 507.2 1854.0 507.7 1855.0 508.2 1856.0 508.7 1857.0 509.2 1858.0 509.6 1859.0 510.0 1860.0 510.3 1861.0 510.7 1862.0 511.0 1863.0 511.3 1864.0 511.5 1865.0 511.7 1866.0 511.9 1867.0 512.0"/>
</g>
<path fill="none" stroke="#000" stroke-width="3" d="M1092.0 1294.8h29.7M1865.5 1294.8h-29.7M1092.0 1139.5h16.0M1865.5 1139.5h-16.0M1092.0 984.3h29.7M1865.5 984.3h-29.7M1092.0 829.0h16.0M1865.5 829.0h-16.0M1092.0 673.8h29.7M1865.5 673.8h-29.7M1092.0 518.5h16.0M1865.5 518.5h-16.0M1092.0 363.3h29.7M1865.5 363.3h-29.7M1092.0 208.1h16.0M1865.5 208.1h-16.0M1092.0 52.8h29.7M1865.5 52.8h-29.7M1199.4 1398.3v-15.5M1199.4 18.3v15.5M1306.9 1398.3v-29.3M1306.9 18.3v29.3M1414.3 1398.3v-15.5M1414.3 18.3v15.5M1521.7 1398.3v-29.3M1521.7 18.3v29.3M1629.2 1398.3v-15.5M1629.2 18.3v15.5M1736.6 1398.3v-29.3M1736.6 18.3v29.3M1844.0 1398.3v-15.5M1844.0 18.3v15.5"/>
<rect x="1092.0" y="18.3" width="773.5" height="1380.0" fill="none" stroke="#000" stroke-width="4.8"/>
<text x="240.5" y="1310.3" font-size="60" text-anchor="end">-270</text>
<text x="240.5" y="999.8" font-size="60" text-anchor="end">-180</text>
<text x="240.5" y="689.3" font-size="60" text-anchor="end">-90</text>
<text x="240.5" y="378.8" font-size="60" text-anchor="end">0</text>
<text x="240.5" y="68.3" font-size="60" text-anchor="end">90</text>
<text x="270.7" y="1474" font-size="60" text-anchor="middle">0</text>
<text x="485.6" y="1474" font-size="60" text-anchor="middle">500</text>
<text x="700.5" y="1474" font-size="60" text-anchor="middle">1000</text>
<text x="915.4" y="1474" font-size="60" text-anchor="middle">1500</text>
<text x="1092.0" y="1474" font-size="60" text-anchor="middle">0</text>
<text x="1306.9" y="1474" font-size="60" text-anchor="middle">500</text>
<text x="1521.7" y="1474" font-size="60" text-anchor="middle">1000</text>
<text x="1736.6" y="1474" font-size="60" text-anchor="middle">1500</text>
<text x="432.6" y="1560.5" font-size="60.6">Time delay (ps)</text>
<text x="1231.7" y="1557.7" font-size="60.6">Time delay (ps)</text>
<text transform="translate(74.5,1012) rotate(-90)" font-size="74">Kerr rotation (µrad)</text>
<circle cx="554" cy="849.8" r="5" fill="#f00"/>
<text x="645" y="871.3" font-size="67">EDS fitting</text>
<circle cx="1391.7" cy="845.1" r="5" fill="#00f"/>
<text x="1493.1" y="869.6" font-size="67">LLG fitting</text>
<text x="899" y="1315" font-size="72" letter-spacing="2.4">(a)</text>
<text x="1724" y="1314" font-size="72" letter-spacing="2.4">(b)</text>
</svg></body></html>
